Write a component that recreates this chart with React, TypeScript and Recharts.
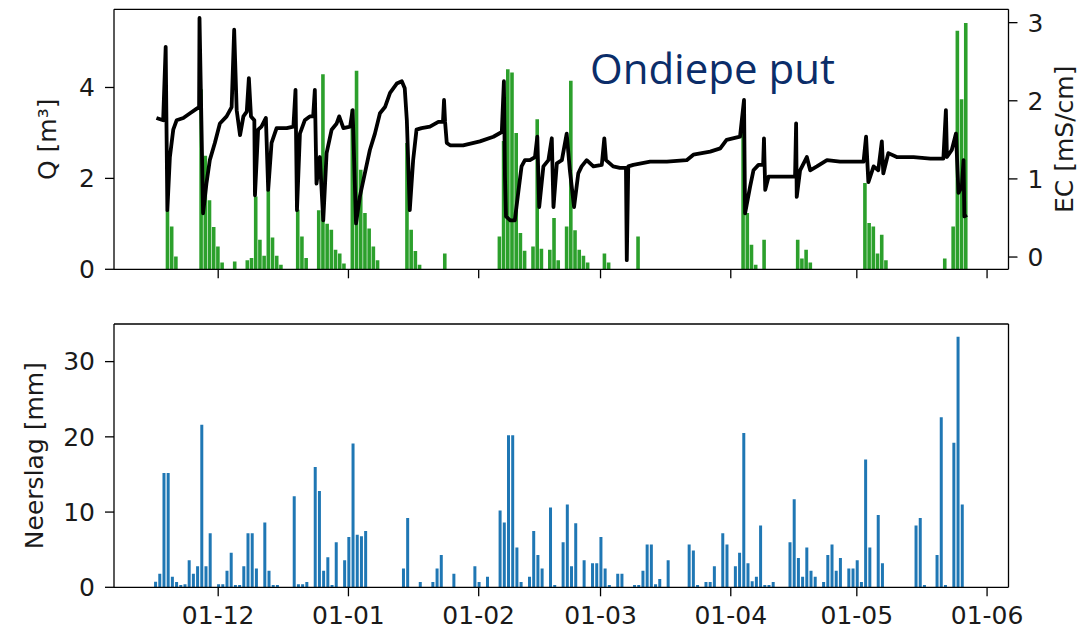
import { ComposedChart, Bar, Line, XAxis, YAxis, ReferenceLine } from "recharts"

// day numbers count from 1 Dec 2019 (= day 0); the daily series start on 15 Nov 2019
const firstDay = -16

const monthTicks = [0, 31, 62, 91, 122, 152, 183]
const monthLabels = ["01-12", "01-01", "01-02", "01-03", "01-04", "01-05", "01-06"]

// daily discharge Q [m3]
const qNov = [0, 0, 0, 0, 1.3, 0.94, 0.28, 0, 0, 0, 0, 0, 3.96, 2.5, 1.52, 0.93]
const qDec = [0.5, 0.15, 0, 0, 0.17, 0, 0, 0.2, 0.25, 1.6, 0.65, 0.3, 1.75, 0.7, 0.3, 0.1, 0, 0, 0, 1.31, 0.72, 0.25, 0, 0, 1.3, 4.29, 1.0, 0.87, 0.43, 0.35, 0.13]
const qJan = [0, 3.52, 4.37, 2.19, 1.24, 0.9, 0.5, 0.2, 0, 0, 0, 0, 0, 0, 2.78, 0.87, 0.4, 0.1, 0, 0, 0, 0, 0, 0.35, 0, 0, 0, 0, 0, 0, 0]
const qFeb = [0, 0, 0, 0, 0, 0.72, 2.82, 4.4, 4.33, 3.0, 0.8, 0.41, 0, 0.5, 3.3, 0.45, 0, 0.43, 1.13, 0.2, 0, 0.94, 4.15, 0.86, 0.43, 0.3, 0.15, 0, 0]
const qMar = [0, 0.35, 0.15, 0, 0, 0, 0, 0, 0, 0.72, 0, 0, 0, 0, 0, 0, 0, 0, 0, 0, 0, 0, 0, 0, 0, 0, 0, 0, 0, 0, 0]
const qApr = [0, 0, 0, 3.37, 1.24, 0.54, 0.1, 0, 0.65, 0, 0, 0, 0, 0, 0, 0, 0.65, 0.24, 0.43, 0.15, 0, 0, 0, 0, 0, 0, 0, 0, 0, 0]
const qMay = [0, 0, 1.9, 1.02, 0.94, 0.35, 0.76, 0.2, 0, 0, 0, 0, 0, 0, 0, 0, 0, 0, 0, 0, 0, 0.24, 0, 0.94, 5.25, 3.74, 5.42, 0, 0, 0, 0]

// daily rainfall [mm]
const rainNov = [0, 0.75, 1.8, 15.2, 15.2, 1.4, 0.7, 0.3, 0.4, 3.6, 1.8, 2.8, 21.6, 2.8, 7.2, 0]
const rainDec = [0.4, 0.4, 2.2, 4.6, 0.3, 0.3, 2.8, 7.2, 7.2, 2.5, 0, 8.6, 2.2, 0.3, 0.3, 0, 0, 0, 12.1, 0.4, 0.4, 0.7, 0, 16.0, 12.8, 2.2, 4.0, 0.3, 6.0, 0, 3.6]
const rainJan = [6.7, 19.1, 7.0, 6.8, 7.5, 0, 0, 0, 0, 0, 0, 0, 0, 2.5, 9.2, 0, 0, 0.7, 0, 0, 0.7, 2.5, 4.3, 0, 0, 1.8, 0, 0, 0, 0, 2.8]
const rainFeb = [0.7, 0, 1.4, 0, 0, 10.2, 8.6, 20.2, 20.2, 5.3, 0.7, 0, 1.4, 7.5, 4.3, 2.5, 0, 10.6, 0.3, 0, 6.0, 11.0, 2.8, 8.5, 0, 3.6, 0, 3.2, 3.2]
const rainMar = [6.7, 2.5, 0.3, 0, 1.8, 1.8, 0, 0, 0.3, 0.3, 2.2, 5.7, 5.7, 0.4, 1.1, 0, 3.6, 0, 0, 0, 0, 5.7, 4.9, 0.3, 0, 0.7, 0.7, 2.8, 0, 7.2, 5.7]
const rainApr = [0, 2.8, 4.6, 20.5, 3.2, 0.8, 1.4, 8.2, 0.3, 0.3, 0.7, 0, 0, 0, 6.0, 11.7, 3.9, 1.4, 5.3, 2.2, 1.4, 0, 0.7, 4.3, 5.7, 2.2, 3.9, 0, 2.5, 2.5]
const rainMay = [3.6, 0.7, 17.0, 5.3, 0, 9.6, 3.2, 0, 0, 0, 0, 0, 0, 0, 8.2, 9.2, 0.3, 0, 0, 4.3, 22.6, 0.3, 0, 19.2, 33.3, 11.0, 0, 0, 0, 0, 0]

// EC logger readings [day, mS/cm]
const ecReadings: [number, number][] = [
  [-14.7, 1.78], [-13.1, 1.75], [-12.5, 2.69], [-12.1, 0.6], [-11.5, 1.28], [-10.7, 1.63], [-9.9, 1.75],
  [-8.3, 1.78], [-6.7, 1.84], [-5.1, 1.9], [-4.55, 1.92], [-4.45, 3.06], [-3.6, 0.56], [-2.8, 0.94],
  [-2.0, 1.24], [-0.8, 1.46], [0.4, 1.71], [2.0, 1.8], [3.2, 1.92], [3.8, 2.91], [4.4, 1.88], [5.2, 1.56],
  [6.0, 1.8], [6.8, 1.86], [7.3, 2.29], [7.8, 1.8], [8.6, 1.75], [8.75, 0.79], [9.5, 1.63], [10.3, 1.67],
  [11.35, 1.78], [11.9, 0.86], [12.7, 1.46], [13.9, 1.65], [16.3, 1.65], [17.9, 1.67], [18.4, 2.14],
  [18.75, 0.6], [19.45, 1.58], [20.6, 1.75], [21.8, 1.8], [22.6, 1.8], [23.0, 2.14], [23.4, 0.94],
  [24.2, 1.28], [25.0, 0.47], [25.8, 1.33], [27.0, 1.63], [28.2, 1.71], [28.8, 1.8], [29.8, 1.65],
  [31.4, 1.67], [32.0, 1.88], [32.8, 0.43], [33.7, 0.77], [34.9, 1.07], [36.1, 1.37], [37.3, 1.58],
  [38.5, 1.84], [39.7, 1.92], [40.9, 2.1], [42.5, 2.22], [43.7, 2.25], [44.4, 2.16], [44.9, 1.75],
  [45.6, 0.6], [46.4, 1.24], [47.2, 1.63], [48.4, 1.65], [50.4, 1.67], [52.4, 1.73], [53.5, 1.73],
  [53.75, 2.01], [54.0, 1.73], [54.4, 1.46], [55.2, 1.43], [58.3, 1.43], [62.3, 1.48], [65.5, 1.54],
  [67.5, 1.6], [68.0, 2.25], [68.25, 1.03], [68.5, 0.52], [69.5, 0.47], [70.6, 0.47], [71.4, 0.82],
  [72.2, 1.16], [73.0, 1.24], [74.2, 1.24], [75.4, 1.28], [75.95, 1.54], [76.4, 0.64], [77.4, 1.16],
  [78.6, 1.24], [79.4, 1.52], [79.8, 0.64], [80.6, 1.2], [81.8, 1.24], [82.95, 1.58], [83.7, 1.11],
  [84.7, 0.64], [85.7, 1.07], [86.5, 1.16], [87.7, 1.24], [89.3, 1.16], [91.3, 1.18], [91.9, 1.52],
  [92.3, 1.24], [94.0, 1.16], [95.6, 1.14], [97.05, 1.14], [97.25, -0.04], [97.6, 1.16], [98.8, 1.18],
  [102.8, 1.22], [106.8, 1.22], [111.5, 1.24], [113.1, 1.31], [117.1, 1.35], [119.5, 1.39], [121.0, 1.5],
  [124.2, 1.54], [125.15, 2.01], [125.4, 0.56], [126.6, 0.9], [127.4, 1.11], [128.6, 1.18], [129.7, 1.18],
  [129.9, 1.52], [130.2, 0.86], [131.0, 1.03], [137.3, 1.03], [137.55, 1.71], [137.7, 0.77], [138.5, 1.11],
  [140.1, 1.28], [140.9, 1.11], [142.5, 1.16], [144.9, 1.24], [148.0, 1.22], [153.6, 1.22], [154.2, 1.54],
  [154.75, 0.96], [156.0, 1.16], [157.1, 1.11], [157.95, 1.48], [158.3, 1.07], [159.5, 1.33], [161.5, 1.28],
  [165.5, 1.28], [169.5, 1.26], [172.6, 1.26], [173.2, 1.88], [173.45, 1.28], [174.6, 1.37], [175.6, 1.58],
  [176.2, 0.82], [177.0, 0.9], [177.4, 1.24], [177.6, 0.52], [178.2, 0.54],
]

const discharge = [...qNov, ...qDec, ...qJan, ...qFeb, ...qMar, ...qApr, ...qMay]
const rainfall = [...rainNov, ...rainDec, ...rainJan, ...rainFeb, ...rainMar, ...rainApr, ...rainMay]

const dailyData = discharge.map((q, i) => ({
  day: firstDay + i,
  q: q || null,
  rain: rainfall[i] || null,
}))
const ecData = ecReadings.map(([day, ec]) => ({ day, ec }))

const xDomain: [number, number] = [-24.8, 188.1]
const qDomain: [number, number] = [0, 5.72]
const ecDomain: [number, number] = [-0.157, 3.171]
const rainDomain: [number, number] = [0, 35]

const axisStroke = { stroke: "#000", strokeWidth: 1.3 }
const tickStyle = { fontSize: 25, fill: "#1a1a1a", fontFamily: "DejaVu Sans" }
const labelStyle = { fontSize: 25, fill: "#1a1a1a", fontFamily: "DejaVu Sans" }

const monthLabel = (v: number) => monthLabels[monthTicks.indexOf(v)] ?? ""

export default function App() {
  return (
    <div
      style={{
        position: "absolute",
        left: 0,
        top: 0,
        width: 1084,
        height: 633,
        overflow: "hidden",
        background: "#fff",
        fontFamily: "DejaVu Sans",
      }}
    >
      {/* top panel: discharge bars */}
      <div style={{ position: "absolute", left: 0, top: 0 }}>
        <ComposedChart width={1084} height={289.3} data={dailyData} margin={{ top: 9.3, right: 75.5, bottom: 0, left: 0 }}>
          <XAxis
            dataKey="day"
            type="number"
            domain={xDomain}
            ticks={monthTicks}
            interval={0}
            allowDataOverflow
            tickFormatter={() => ""}
            tickSize={9}
            height={20}
            axisLine={axisStroke}
            tickLine={axisStroke}
          />
          <YAxis
            domain={qDomain}
            ticks={[0, 2, 4]}
            interval={0}
            allowDataOverflow
            width={114}
            tickSize={9}
            tickMargin={10}
            tick={tickStyle}
            axisLine={axisStroke}
            tickLine={axisStroke}
          />
          <ReferenceLine y={qDomain[1]} stroke="#000" strokeWidth={1.3} />
          <Bar dataKey="q" fill="#2ca02c" barSize={3.6} isAnimationActive={false} />
        </ComposedChart>
      </div>

      {/* top panel: EC line on the right axis */}
      <div style={{ position: "absolute", left: 0, top: 0 }}>
        <ComposedChart width={1084} height={289.3} data={ecData} margin={{ top: 9.3, right: 0, bottom: 20, left: 114 }}>
          <XAxis dataKey="day" type="number" domain={xDomain} allowDataOverflow hide />
          <YAxis
            orientation="right"
            domain={ecDomain}
            ticks={[0, 1, 2, 3]}
            interval={0}
            allowDataOverflow
            width={75.5}
            tickSize={9}
            tickMargin={10}
            tick={tickStyle}
            axisLine={axisStroke}
            tickLine={axisStroke}
          />
          <Line
            dataKey="ec"
            type="linear"
            stroke="#000"
            strokeWidth={3.8}
            strokeLinejoin="round"
            dot={false}
            isAnimationActive={false}
          />
        </ComposedChart>
      </div>

      {/* bottom panel: rainfall */}
      <div style={{ position: "absolute", left: 0, top: 300 }}>
        <ComposedChart width={1084} height={333} data={dailyData} margin={{ top: 24, right: 75.5, bottom: 0, left: 0 }}>
          <XAxis
            dataKey="day"
            type="number"
            domain={xDomain}
            ticks={monthTicks}
            interval={0}
            allowDataOverflow
            tickFormatter={monthLabel}
            tickSize={9}
            tickMargin={10}
            height={45.7}
            tick={tickStyle}
            axisLine={axisStroke}
            tickLine={axisStroke}
          />
          <YAxis
            domain={rainDomain}
            ticks={[0, 10, 20, 30]}
            interval={0}
            allowDataOverflow
            width={114}
            tickSize={9}
            tickMargin={10}
            tick={tickStyle}
            axisLine={axisStroke}
            tickLine={axisStroke}
          />
          <ReferenceLine y={rainDomain[1]} stroke="#000" strokeWidth={1.3} />
          <ReferenceLine x={xDomain[1]} stroke="#000" strokeWidth={1.3} />
          <Bar dataKey="rain" fill="#1f77b4" barSize={3} isAnimationActive={false} />
        </ComposedChart>
      </div>

      {/* axis titles and panel title */}
      <svg width={1084} height={633} style={{ position: "absolute", left: 0, top: 0, pointerEvents: "none" }}>
        <text x={48} y={139.3} transform="rotate(-90 48 139.3)" textAnchor="middle" dominantBaseline="central" {...labelStyle}>
          Q [m³]
        </text>
        <text x={1065} y={139.3} transform="rotate(-90 1065 139.3)" textAnchor="middle" dominantBaseline="central" {...labelStyle}>
          EC [mS/cm]
        </text>
        <text x={35} y={455.6} transform="rotate(-90 35 455.6)" textAnchor="middle" dominantBaseline="central" {...labelStyle}>
          Neerslag [mm]
        </text>
        <text x={590} y={84} fontSize={42} fontFamily="Open Sans" fill="#0b2d69">
          Ondiepe put
        </text>
      </svg>
    </div>
  )
}
